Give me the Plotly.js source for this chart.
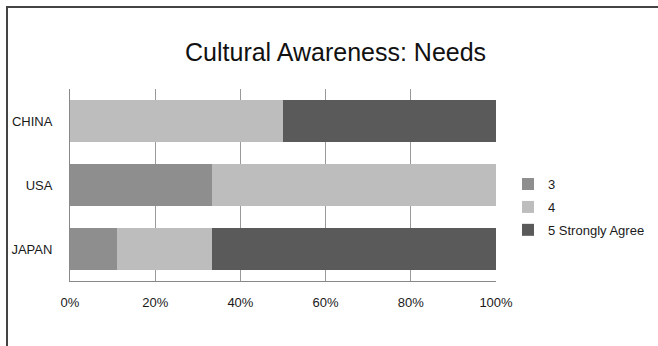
<!DOCTYPE html>
<html>
<head>
<meta charset="utf-8">
<script src="https://cdn.plot.ly/plotly-3.0.1.min.js"></script>
<style>
  html, body { margin: 0; padding: 0; background: #fff; }
  #wrap { position: relative; width: 658px; height: 346px; }
  #chart { width: 658px; height: 346px; }
  #frame { position: absolute; left: 6px; top: 6px; right: -4px; bottom: -4px;
           border-left: 2px solid #444; border-top: 2px solid #444; pointer-events: none; }
</style>
</head>
<body>
<div id="wrap">
  <div id="chart"></div>
  <div id="frame"></div>
</div>
<script>
const categories = ["JAPAN", "USA", "CHINA"];
const seriesNames = ["3", "4", "5 Strongly Agree"];
const values3 = [11.1, 33.3, 0];
const values4 = [22.2, 66.7, 50];
const values5 = [66.7, 0, 50];
const tickVals = [0, 20, 40, 60, 80, 100];
const tickText = ["0%", "20%", "40%", "60%", "80%", "100%"];
const colors = ["#8e8e8e", "#bdbdbd", "#5a5a5a"];

const seriesValues = [values3, values4, values5];
const traces = seriesValues.map((v, i) => ({
  type: "bar",
  orientation: "h",
  name: seriesNames[i],
  legendgroup: "g" + i,
  y: categories,
  x: v,
  marker: { color: colors[i], line: { width: 0 } },
  hoverinfo: "x+y+name"
}));

const font = "Liberation Sans, Arial, sans-serif";
const layout = {
  width: 658,
  height: 346,
  margin: { l: 70, r: 162, t: 89, b: 65, autoexpand: false },
  paper_bgcolor: "#ffffff",
  plot_bgcolor: "#ffffff",
  barmode: "stack",
  bargap: 0.33,
  font: { family: font, size: 13, color: "#1a1a1a" },
  title: {
    text: "Cultural Awareness: Needs",
    font: { family: font, size: 25, color: "#111" },
    xref: "container", x: 0.51, xanchor: "center",
    yref: "container", y: 0.85, yanchor: "middle"
  },
  xaxis: {
    range: [0, 100],
    tickvals: tickVals,
    ticktext: tickText,
    showgrid: true,
    gridcolor: "#999",
    gridwidth: 1,
    zeroline: false,
    showline: true,
    linecolor: "#888",
    linewidth: 1,
    ticks: "",
    ticklabelstandoff: 9,
    tickfont: { family: font, size: 13, color: "#1a1a1a" },
    fixedrange: true
  },
  yaxis: {
    type: "category",
    categoryorder: "array",
    categoryarray: categories,
    showgrid: false,
    zeroline: false,
    showline: true,
    linecolor: "#888",
    linewidth: 1,
    ticks: "",
    ticklabelstandoff: 14,
    tickfont: { family: font, size: 13, color: "#1a1a1a" },
    fixedrange: true
  },
  showlegend: true,
  legend: {
    traceorder: "grouped",
    xref: "paper", x: 1.0, xanchor: "left",
    yref: "paper", y: 0.385, yanchor: "middle",
    font: { family: font, size: 13, color: "#1a1a1a" },
    itemwidth: 30,
    tracegroupgap: 3,
    bgcolor: "rgba(0,0,0,0)"
  }
};
// legend left edge placed so that its text starts near x=548px
layout.legend.x = (508 - layout.margin.l) / (658 - layout.margin.l - layout.margin.r);

Plotly.newPlot("chart", traces, layout, { displayModeBar: false, staticPlot: true });
</script>
</body>
</html>
